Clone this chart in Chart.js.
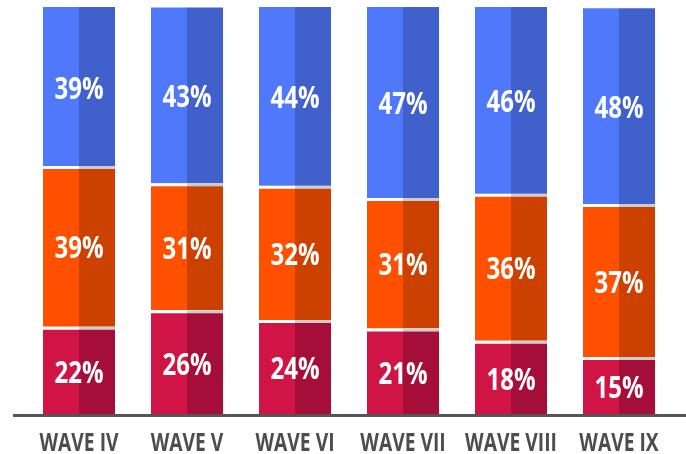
<!DOCTYPE html>
<html>
<head>
<meta charset="utf-8">
<script src="https://cdn.jsdelivr.net/npm/chart.js@4/dist/chart.umd.min.js"></script>
<style>
  html, body { margin: 0; padding: 0; background: #ffffff; }
  #wrap { width: 686px; height: 454px; }
</style>
</head>
<body>
<div id="wrap"><canvas id="waveChart" width="686" height="454"></canvas></div>
<script>
const waves = ['WAVE IV', 'WAVE V', 'WAVE VI', 'WAVE VII', 'WAVE VIII', 'WAVE IX'];

// segment heights
const redValues = [21.6, 25.7, 23.3, 21.2, 18.2, 14.2];
const orangeValues = [39.4, 31.1, 32.9, 32.0, 36.0, 37.5];
const blueValues = [39.0, 43.1, 43.8, 46.8, 45.8, 48.0];

// printed labels
const redLabels = [22, 26, 24, 21, 18, 15];
const orangeLabels = [39, 31, 32, 31, 36, 37];
const blueLabels = [39, 43, 44, 47, 46, 48];

const light = { red: '#d01446', orange: '#ff5000', blue: '#5078fa' };
const dark = { red: '#a60e3a', orange: '#cc4000', blue: '#4060cc' };

const sep = { top: 3, right: 0, bottom: 0, left: 0 };
const noSep = 0;

function seg(values, color, border, borderColor, stack) {
  return {
    data: values,
    backgroundColor: color,
    borderColor: borderColor,
    borderWidth: border,
    borderSkipped: false,
    stack: stack,
    categoryPercentage: 0.667,
    barPercentage: 1.0
  };
}

const segLabels = [redLabels, orangeLabels, blueLabels];

function condensed(ctx, text, x, y, size, squeeze, color) {
  ctx.save();
  ctx.font = 'bold ' + size + 'px "Open Sans", sans-serif';
  ctx.fillStyle = color;
  ctx.textAlign = 'center';
  ctx.textBaseline = 'alphabetic';
  ctx.translate(x, y);
  ctx.scale(squeeze, 1);
  ctx.fillText(text, 0, 0);
  ctx.restore();
}

const labelPlugin = {
  id: 'labelPlugin',
  afterDatasetsDraw(chart) {
    const ctx = chart.ctx;
    const xs = chart.scales.x;
    const area = chart.chartArea;

    // baseline
    ctx.save();
    ctx.strokeStyle = '#555555';
    ctx.lineWidth = 3;
    ctx.beginPath();
    ctx.moveTo(area.left - 12, area.bottom + 0.5);
    ctx.lineTo(area.right + 13, area.bottom + 0.5);
    ctx.stroke();
    ctx.restore();

    for (let k = 0; k < 3; k++) {
      const meta = chart.getDatasetMeta(k);
      meta.data.forEach((bar, i) => {
        const cx = xs.getPixelForValue(i);
        const cy = (bar.y + bar.base) / 2;
        condensed(ctx, segLabels[k][i] + '%', cx, cy + 12, 30, 0.8, '#ffffff');
      });
    }

    waves.forEach((w, i) => {
      condensed(ctx, w, xs.getPixelForValue(i), 451, 25, 0.77, '#4d4d4d');
    });
  }
};

new Chart(document.getElementById('waveChart').getContext('2d'), {
  type: 'bar',
  data: {
    labels: waves,
    datasets: [
      seg(redValues, light.red, sep, '#ffffff', 'left'),
      seg(orangeValues, light.orange, sep, '#ffffff', 'left'),
      seg(blueValues, light.blue, noSep, '#ffffff', 'left'),
      seg(redValues, dark.red, sep, '#cccccc', 'right'),
      seg(orangeValues, dark.orange, sep, '#cccccc', 'right'),
      seg(blueValues, dark.blue, noSep, '#cccccc', 'right')
    ]
  },
  options: {
    responsive: false,
    animation: false,
    layout: { padding: { left: 25, right: 13, top: 7, bottom: 39 } },
    plugins: {
      legend: { display: false },
      tooltip: { enabled: false }
    },
    scales: {
      x: { stacked: true, display: false },
      y: { stacked: true, display: false, min: 0, max: 100 }
    }
  },
  plugins: [labelPlugin]
});
</script>
</body>
</html>
